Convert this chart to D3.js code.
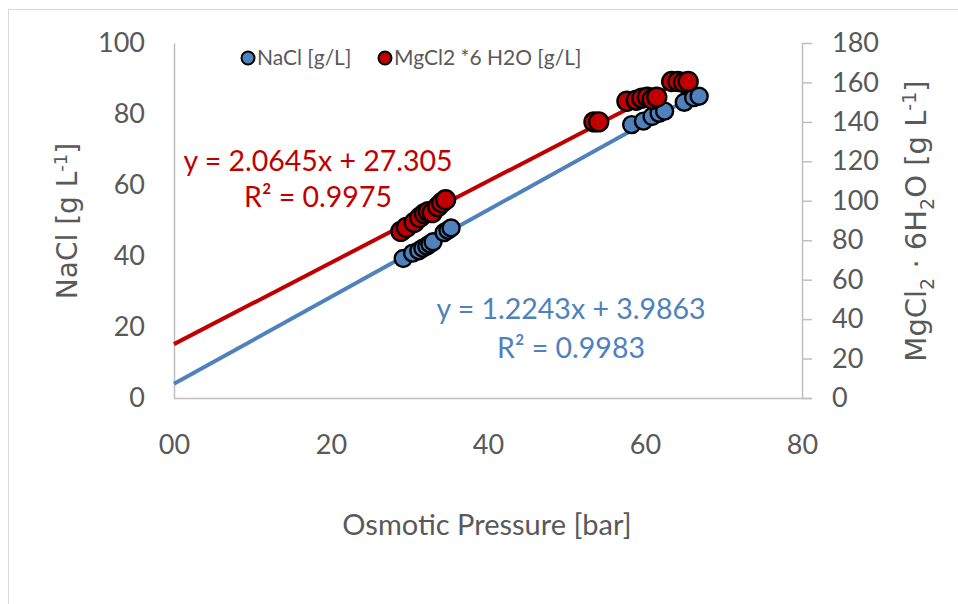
<!DOCTYPE html>
<html><head><meta charset="utf-8">
<script src="https://cdn.jsdelivr.net/npm/d3@7"></script>
<style>body{margin:0;background:#fff}</style>
</head><body><svg id="c" width="958" height="604"></svg>
<script>
const nacl_x = [29.2, 30.4, 31.2, 31.7, 32.2, 32.6, 33.0, 34.4, 34.9, 35.3, 58.3, 59.8, 60.9, 61.8, 62.5, 65.0, 66.2, 66.9];
const nacl_y = [39.3, 40.8, 41.5, 42.2, 42.8, 43.4, 44.0, 46.6, 47.3, 47.9, 77.0, 78.0, 79.3, 80.2, 80.8, 83.3, 84.6, 85.0];
const mg_x = [28.9, 29.6, 30.6, 31.3, 31.9, 32.4, 32.9, 33.6, 34.1, 34.6, 53.5, 54.1, 57.7, 58.9, 59.6, 60.3, 60.9, 61.5, 63.4, 64.2, 64.9, 65.5];
const mg_y = [84.5, 86.5, 89.0, 91.5, 93.5, 94.5, 94.0, 97.0, 99.0, 100.5, 140.0, 140.0, 150.5, 151.0, 152.0, 152.5, 151.5, 152.5, 160.5, 160.5, 160.0, 160.5];
const fit_nacl = {slope: 1.2243, intercept: 3.9863, r2: "0.9983", eq: "y = 1.2243x + 3.9863"};
const fit_mg = {slope: 2.0645, intercept: 27.305, r2: "0.9975", eq: "y = 2.0645x + 27.305"};
const xTicks = [0, 20, 40, 60, 80];
const xTickLabels = ["00", "20", "40", "60", "80"];
const yLeftTicks = [0, 20, 40, 60, 80, 100];
const yRightTicks = [0, 20, 40, 60, 80, 100, 120, 140, 160, 180];
const seriesNames = ["NaCl [g/L]", "MgCl2 *6 H2O [g/L]"];

const svg = d3.select("#c");
const blue = "#4F81BD", red = "#C00000", grey = "#595959", axisCol = "#BFBFBF";
const tickFont = "Lato, 'Open Sans', sans-serif";
const L = 174, R = 802, T = 43, B = 398;
const x = d3.scaleLinear().domain([0, 80]).range([L, R]);
const yL = d3.scaleLinear().domain([0, 100]).range([B, T]);
const yR = d3.scaleLinear().domain([0, 180]).range([B, T]);

// chart border
svg.append("rect").attr("x", 8.5).attr("y", 9.5).attr("width", 960).attr("height", 600)
  .attr("fill", "none").attr("stroke", "#D9D9D9").attr("stroke-width", 1);

// axes
const gx = svg.append("g").attr("transform", `translate(0,${B})`)
  .call(d3.axisBottom(x).tickValues(xTicks).tickFormat((d, i) => xTickLabels[i]).tickSize(0).tickPadding(37));
gx.select(".domain").attr("stroke", axisCol).attr("stroke-width", 1.5).attr("d", `M${L},0.5H${R + 10}`);
gx.selectAll("text").attr("font-family", tickFont).attr("font-size", 27).attr("fill", grey);

const gl = svg.append("g").attr("transform", `translate(${L},0)`)
  .call(d3.axisLeft(yL).tickValues(yLeftTicks).tickSize(0).tickPadding(29));
gl.select(".domain").attr("stroke", axisCol).attr("stroke-width", 1.5);
gl.selectAll("text").attr("font-family", tickFont).attr("font-size", 27).attr("fill", grey);

const gr = svg.append("g").attr("transform", `translate(${R},0)`)
  .call(d3.axisRight(yR).tickValues(yRightTicks).tickSize(10).tickPadding(20));
gr.select(".domain").attr("stroke", axisCol).attr("stroke-width", 1.5).attr("d", `M0.5,${T}H0.5V${B}`);
gr.selectAll("line").attr("stroke", axisCol).attr("stroke-width", 1.5);
gr.selectAll("text").attr("font-family", tickFont).attr("font-size", 27).attr("fill", grey).attr("text-anchor", "start");

// trendlines
const line = d3.line();
const nMax = d3.max(nacl_x), mMax = d3.max(mg_x);
svg.append("path").attr("d", line([[x(0), yL(fit_nacl.intercept)], [x(nMax), yL(fit_nacl.slope * nMax + fit_nacl.intercept)]]))
  .attr("stroke", blue).attr("stroke-width", 4).attr("fill", "none");
svg.append("path").attr("d", line([[x(0), yR(fit_mg.intercept)], [x(mMax), yR(fit_mg.slope * mMax + fit_mg.intercept)]]))
  .attr("stroke", red).attr("stroke-width", 4).attr("fill", "none");

// points
svg.append("g").selectAll("circle").data(d3.range(nacl_x.length)).join("circle")
  .attr("cx", i => x(nacl_x[i])).attr("cy", i => yL(nacl_y[i])).attr("r", 8.5)
  .attr("fill", blue).attr("stroke", "#000").attr("stroke-width", 2.4);
svg.append("g").selectAll("circle").data(d3.range(mg_x.length)).join("circle")
  .attr("cx", i => x(mg_x[i])).attr("cy", i => yR(mg_y[i])).attr("r", 9.5)
  .attr("fill", red).attr("stroke", "#000").attr("stroke-width", 2.4);

// equations
const eqFont = "Lato, 'Open Sans', sans-serif";
svg.append("text").attr("x", 318).attr("y", 171).attr("text-anchor", "middle").attr("font-family", eqFont)
  .attr("font-size", 28.5).attr("fill", red).text(fit_mg.eq);
svg.append("text").attr("x", 318).attr("y", 207).attr("text-anchor", "middle").attr("font-family", eqFont)
  .attr("font-size", 28.5).attr("fill", red).text("R² = " + fit_mg.r2);
svg.append("text").attr("x", 571).attr("y", 319).attr("text-anchor", "middle").attr("font-family", eqFont)
  .attr("font-size", 28.5).attr("fill", blue).text(fit_nacl.eq);
svg.append("text").attr("x", 571).attr("y", 358).attr("text-anchor", "middle").attr("font-family", eqFont)
  .attr("font-size", 28.5).attr("fill", blue).text("R² = " + fit_nacl.r2);

// legend
const leg = svg.append("g");
leg.append("circle").attr("cx", 248).attr("cy", 58).attr("r", 6.5).attr("fill", blue).attr("stroke", "#000").attr("stroke-width", 2);
leg.append("text").attr("x", 257).attr("y", 65).attr("font-family", tickFont).attr("font-size", 21).attr("fill", grey).text(seriesNames[0]);
leg.append("circle").attr("cx", 385).attr("cy", 58).attr("r", 6.5).attr("fill", red).attr("stroke", "#000").attr("stroke-width", 2);
leg.append("text").attr("x", 394).attr("y", 65).attr("font-family", tickFont).attr("font-size", 21).attr("fill", grey).text(seriesNames[1]);

// axis titles
svg.append("text").attr("x", 487).attr("y", 535).attr("text-anchor", "middle").attr("font-family", tickFont)
  .attr("font-size", 29).attr("fill", grey).text("Osmotic Pressure [bar]");

const lt = svg.append("text").attr("transform", "translate(77,221) rotate(-90)").attr("text-anchor", "middle")
  .attr("font-family", "'DejaVu Sans', sans-serif").attr("font-size", 28).attr("fill", grey);
lt.append("tspan").text("NaCl [g L");
lt.append("tspan").attr("dy", -10).attr("font-size", 18).text("-1");
lt.append("tspan").attr("dy", 10).text("]");

const rt = svg.append("text").attr("transform", "translate(926,221) rotate(-90)").attr("text-anchor", "middle")
  .attr("font-family", "'DejaVu Sans', sans-serif").attr("font-size", 29).attr("fill", grey);
rt.append("tspan").text("MgCl");
rt.append("tspan").attr("dy", 8).attr("font-size", 19).text("2");
rt.append("tspan").attr("dy", -8).text(" · 6H");
rt.append("tspan").attr("dy", 8).attr("font-size", 19).text("2");
rt.append("tspan").attr("dy", -8).text("O [g L");
rt.append("tspan").attr("dy", -10).attr("font-size", 19).text("-1");
rt.append("tspan").attr("dy", 10).text("]");
</script></body></html>
